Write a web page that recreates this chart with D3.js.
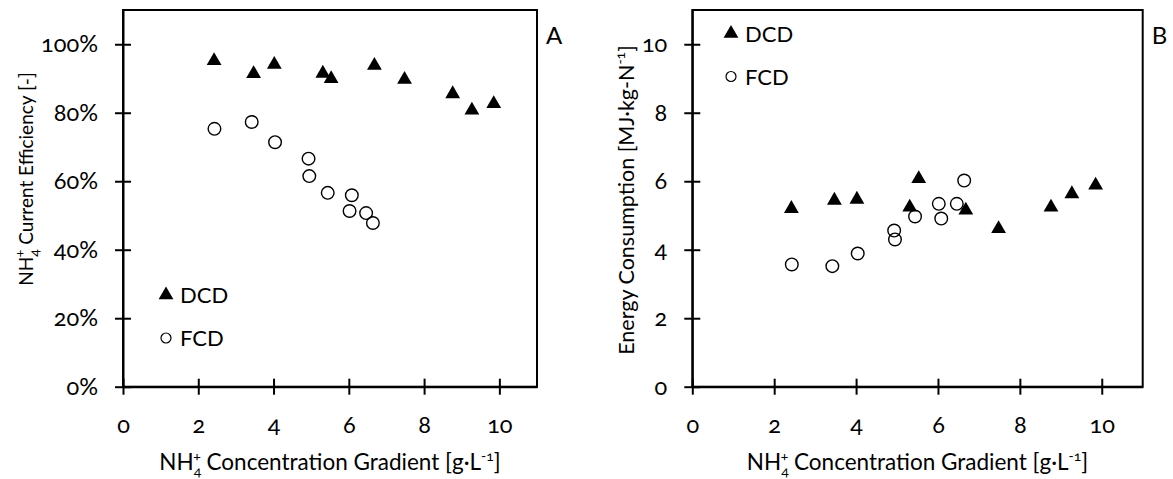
<!DOCTYPE html>
<html>
<head>
<meta charset="utf-8">
<script src="https://cdn.jsdelivr.net/npm/d3@7"></script>
<style>
  body { margin: 0; background: #fff; }
  svg text { font-family: Lato, "Open Sans", sans-serif; font-variant-numeric: oldstyle-nums; fill: #000; }
</style>
</head>
<body>
<svg id="drawing_region"></svg>
<script>
// NH4+ concentration gradient [g/L]
const dcdX = [2.42, 3.47, 4.02, 5.31, 5.53, 6.68, 7.48, 8.76, 9.27, 9.85];
const fcdX = [2.43, 3.42, 4.04, 4.93, 4.95, 5.44, 6.02, 6.08, 6.46, 6.64];

// panel A: current efficiency (fraction)
const dcdEff = [0.952, 0.914, 0.941, 0.915, 0.899, 0.938, 0.897, 0.855, 0.807, 0.826];
const fcdEff = [0.753, 0.773, 0.714, 0.666, 0.615, 0.566, 0.513, 0.559, 0.507, 0.478];

// panel B: energy consumption [MJ/kg-N]
const dcdEnergy = [5.20, 5.44, 5.47, 5.24, 6.07, 5.15, 4.61, 5.24, 5.63, 5.88];
const fcdEnergy = [3.57, 3.52, 3.89, 4.56, 4.30, 4.97, 5.34, 4.91, 5.34, 6.02];

const xTicks = [0, 2, 4, 6, 8, 10];
const effTicks = [0, 0.2, 0.4, 0.6, 0.8, 1.0];
const energyTicks = [0, 2, 4, 6, 8, 10];
const seriesNames = ['DCD', 'FCD'];

const svg = d3.select('#drawing_region')
    .attr('width', 1173)
    .attr('height', 479);

// writes text made of plain / sub / sup pieces into a <text>
function richText(sel, parts) {
    let shift = 0;
    parts.forEach(p => {
        let target = p.sub ? 6 : (p.sup ? -9 : 0);
        let ts = sel.append('tspan').text(p.t).attr('dy', target - shift);
        if (p.sub || p.sup) ts.attr('font-size', '14px');
        if (p.dx) ts.attr('dx', p.dx);
        shift = target;
    });
}

const xTitle = [{t: 'NH'}, {t: '4', sub: true}, {t: '+', sup: true, dx: -8}, {t: ' Concentration Gradient [g·L'}, {t: '-1', sup: true}, {t: ']'}];

class ScatterPanel {

    constructor( config ) {
        this.config = config;
        this.init();
    }

    init() {
        let self = this;
        let c = self.config;

        self.width = c.right - c.left;
        self.height = c.bottom - c.top;

        self.g = svg.append('g')
            .attr('transform', `translate(${c.left}, ${c.top})`);

        self.xscale = d3.scaleLinear().domain([0, 11]).range([0, self.width]);
        self.yscale = d3.scaleLinear().domain([0, c.ymax]).range([self.height, 0]);
    }

    render() {
        let self = this;
        let c = self.config;

        self.g.append('rect')
            .attr('width', self.width)
            .attr('height', self.height)
            .attr('fill', 'none')
            .attr('stroke', '#000')
            .attr('stroke-width', 2);

        let xaxis = self.g.append('g')
            .attr('transform', `translate(0, ${self.height})`)
            .call(d3.axisBottom(self.xscale).tickValues(xTicks).tickSize(8).tickPadding(22).tickSizeOuter(0));
        xaxis.selectAll('.tick line').attr('y1', -8).attr('stroke-width', 2);

        let yaxis = self.g.append('g')
            .call(d3.axisLeft(self.yscale).tickValues(c.yticks).tickFormat(c.yformat)
                .tickSize(8).tickPadding(17).tickSizeOuter(0));
        yaxis.selectAll('.tick line').attr('x1', 8).attr('stroke-width', 2);

        self.g.selectAll('.domain').attr('stroke-width', 2);
        self.g.selectAll('.tick text')
            .attr('font-family', null)
            .style('font-size', '23.5px');

        // DCD triangles
        self.g.selectAll('.dcd')
            .data(dcdX.map((x, i) => [x, c.dcd[i]]))
            .enter()
            .append('path')
            .attr('d', d3.symbol(d3.symbolTriangle, 95))
            .attr('transform', d => `translate(${self.xscale(d[0])}, ${self.yscale(d[1])})`)
            .attr('fill', '#000');

        // FCD circles
        self.g.selectAll('.fcd')
            .data(fcdX.map((x, i) => [x, c.fcd[i]]))
            .enter()
            .append('circle')
            .attr('cx', d => self.xscale(d[0]))
            .attr('cy', d => self.yscale(d[1]))
            .attr('r', 6.3)
            .attr('fill', 'none')
            .attr('stroke', '#000')
            .attr('stroke-width', 1.4);

        // legend
        let lg = svg.append('g');
        lg.append('path')
            .attr('d', d3.symbol(d3.symbolTriangle, 95))
            .attr('transform', `translate(${c.legend[0]}, ${c.legend[1]})`)
            .attr('fill', '#000');
        lg.append('circle')
            .attr('cx', c.legend[0]).attr('cy', c.legend[1] + 43)
            .attr('r', 5).attr('fill', 'none')
            .attr('stroke', '#000').attr('stroke-width', 1.2);
        lg.selectAll('text')
            .data(seriesNames)
            .enter()
            .append('text')
            .attr('x', c.legend[0] + 14)
            .attr('y', (d, i) => c.legend[1] + 8 + i * 43)
            .style('font-size', '22px')
            .text(d => d);

        // axis titles
        let xt = svg.append('text')
            .attr('x', (c.left + c.right) / 2)
            .attr('y', 470)
            .attr('text-anchor', 'middle')
            .style('font-size', '22.5px');
        richText(xt, xTitle);

        let yt = svg.append('text')
            .attr('transform', `translate(${c.ytitle[0]}, ${c.ytitle[1]}) rotate(-90)`)
            .attr('text-anchor', 'middle')
            .style('font-size', c.ysize);
        richText(yt, c.ylabel);

        svg.append('text')
            .attr('x', c.right + 9)
            .attr('y', 44)
            .style('font-size', '24px')
            .text(c.tag);
    }
}

const panelA = new ScatterPanel({
    left: 123, right: 537, top: 10, bottom: 386.7,
    ymax: 1.1, yticks: effTicks, yformat: d3.format('.0%'),
    dcd: dcdEff, fcd: fcdEff,
    legend: [166, 295],
    ytitle: [33, 179], ysize: '19px',
    ylabel: [{t: 'NH'}, {t: '4', sub: true}, {t: '+', sup: true, dx: -8}, {t: ' Current Efficiency [-]'}],
    tag: 'A'
});
panelA.render();

const panelB = new ScatterPanel({
    left: 692.3, right: 1142.7, top: 10, bottom: 386.7,
    ymax: 11, yticks: energyTicks, yformat: d3.format('d'),
    dcd: dcdEnergy, fcd: fcdEnergy,
    legend: [731, 33.5],
    ytitle: [634, 200], ysize: '21.5px',
    ylabel: [{t: 'Energy Consumption [MJ·kg-N'}, {t: '-1', sup: true}, {t: ']'}],
    tag: 'B'
});
panelB.render();
</script>
</body>
</html>
